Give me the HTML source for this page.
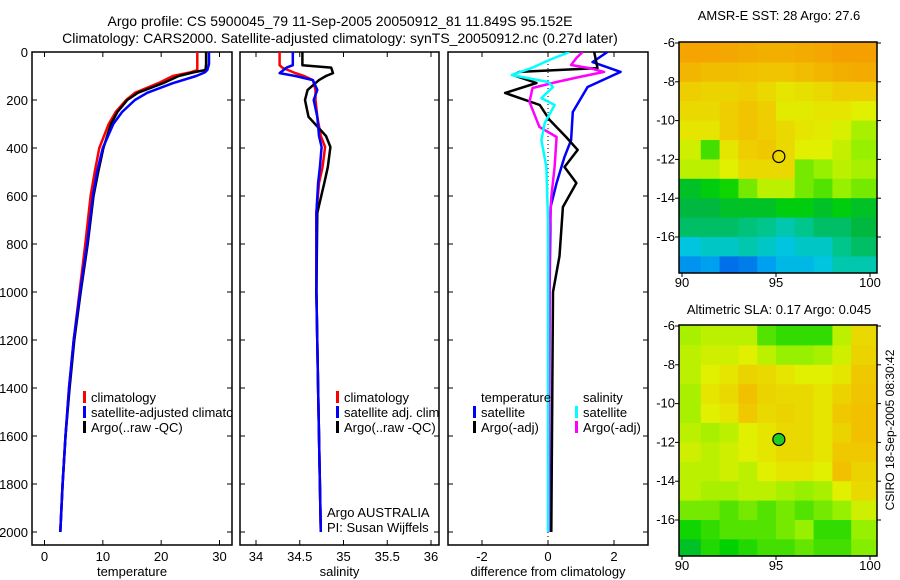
<!DOCTYPE html>
<html><head><meta charset="utf-8"><style>
html,body{margin:0;padding:0;background:#fff;}
svg{display:block;font-family:"Liberation Sans",sans-serif;}
</style></head><body>
<svg id="fig" width="900" height="580" viewBox="0 0 900 580" xmlns="http://www.w3.org/2000/svg">
<text x="340" y="26" font-size="14" text-anchor="middle">Argo profile: CS 5900045_79 11-Sep-2005 20050912_81 11.849S 95.152E</text>
<text x="340" y="43" font-size="14" text-anchor="middle">Climatology: CARS2000. Satellite-adjusted climatology: synTS_20050912.nc (0.27d later)</text>
<text x="779" y="20" font-size="13" text-anchor="middle">AMSR-E SST: 28 Argo: 27.6</text>
<text x="779" y="314" font-size="13" text-anchor="middle">Altimetric SLA: 0.17 Argo: 0.045</text>
<text transform="translate(894,430) rotate(-90)" font-size="12" text-anchor="middle">CSIRO 18-Sep-2005 08:30:42</text>
</svg>
<script>
// ---------- data ----------
const depthTicks = [0,200,400,600,800,1000,1200,1400,1600,1800,2000];
const tempTicks = [0,10,20,30];
const salTicks = [34,34.5,35,35.5,36];
const salTickLabels = ["34","34.5","35","35.5","36"];
const diffTicks = [-2,0,2];

const tempDepth = [0,50,75,85,100,130,170,200,250,300,400,500,600,800,1000,1200,1400,1600,1800,2000];
const tempClim  = [26.2,26.2,26.2,25,22,19.5,15.5,14,12.2,11,9.4,8.6,7.9,7,6,5,4.2,3.6,3.1,2.7];
const tempSat   = [28.2,28.2,27.9,27.5,26,22,17.6,15.5,13.3,11.8,10,9,8.3,7.3,6.1,5,4.2,3.6,3.1,2.7];
const tempArgo  = [27.7,27.7,27.6,25.5,23,20.3,16,14.2,12.5,11.4,10.1,9.2,8.4,7.4,6.2,5.1,4.3,3.6,3.1,2.7];

const salDepth = [0,55,65,88,100,117,158,200,270,350,396,480,546,670,1000,1400,2000];
const salClim  = [34.27,34.27,34.3,34.45,34.55,34.65,34.68,34.68,34.7,34.74,34.79,34.76,34.72,34.69,34.69,34.71,34.74];
const salSat   = [34.42,34.42,34.35,34.27,34.45,34.65,34.7,34.66,34.7,34.72,34.75,34.73,34.71,34.69,34.69,34.71,34.74];
const salArgo  = [34.53,34.53,34.86,34.88,34.8,34.72,34.59,34.56,34.6,34.8,34.85,34.82,34.78,34.7,34.69,34.71,34.74];

const dTempSatDepth = [0,42,83,146,250,367,437,546,646,1000,2000];
const dTempSat      = [1.8,1.35,2.2,1.2,0.75,0.7,0.5,0.26,0.08,0.05,0.03];
const dTempArgoDepth = [0,67,83,96,129,171,221,283,354,408,479,546,646,850,1000,2000];
const dTempArgo      = [1.4,1.5,-0.86,-1.07,-0.35,-1.3,-0.25,0.05,0.55,0.9,0.5,0.86,0.45,0.35,0.15,0.1];
const dSalSatDepth = [0,33,67,96,108,125,146,192,221,296,367,479,700,2000];
const dSalSat      = [0.65,0.05,-0.5,-1.1,-0.65,0,0.15,-0.2,0.2,-0.1,-0.2,-0.05,0,0];
const dSalArgoDepth = [0,25,54,67,83,104,125,150,208,312,354,479,604,750,2000];
const dSalArgo      = [1.05,0.86,0.7,1.25,1.7,0.95,0.26,-0.47,-0.56,-0.26,0.26,0.2,0.1,0.05,0.02];

const lonTicks = [90,95,100];
const latTicks = [-6,-8,-10,-12,-14,-16];
const latTickLabels = ["-6","-8","-10","-12","-14","-16"];
const gridLon = [90,91,92,93,94,95,96,97,98,99];
const gridLat = [-6,-7,-8,-9,-10,-11,-12,-13,-14,-15,-16,-17];
const sstGrid = [
[0.85,0.85,0.84,0.83,0.82,0.82,0.83,0.84,0.86,0.87],
[0.80,0.78,0.78,0.77,0.76,0.76,0.78,0.80,0.82,0.83],
[0.74,0.73,0.73,0.74,0.72,0.70,0.71,0.72,0.74,0.74],
[0.72,0.72,0.74,0.76,0.74,0.69,0.69,0.70,0.70,0.68],
[0.70,0.70,0.74,0.76,0.74,0.72,0.70,0.69,0.67,0.62],
[0.66,0.55,0.70,0.74,0.75,0.72,0.68,0.68,0.65,0.60],
[0.64,0.64,0.68,0.72,0.72,0.72,0.58,0.60,0.64,0.62],
[0.48,0.50,0.52,0.58,0.64,0.64,0.58,0.56,0.60,0.58],
[0.46,0.46,0.48,0.48,0.48,0.50,0.50,0.48,0.50,0.48],
[0.44,0.44,0.44,0.43,0.42,0.40,0.42,0.44,0.44,0.46],
[0.36,0.38,0.38,0.40,0.38,0.36,0.38,0.38,0.42,0.44],
[0.28,0.30,0.22,0.24,0.30,0.34,0.34,0.36,0.40,0.40]];
const slaGrid = [
[0.62,0.64,0.64,0.64,0.56,0.54,0.54,0.54,0.64,0.72],
[0.64,0.66,0.66,0.68,0.64,0.60,0.60,0.62,0.66,0.73],
[0.64,0.68,0.70,0.73,0.72,0.70,0.68,0.68,0.70,0.75],
[0.62,0.70,0.72,0.77,0.73,0.72,0.72,0.70,0.73,0.76],
[0.62,0.68,0.70,0.75,0.72,0.73,0.72,0.70,0.75,0.77],
[0.64,0.62,0.64,0.68,0.70,0.72,0.72,0.70,0.73,0.77],
[0.66,0.64,0.66,0.68,0.70,0.72,0.72,0.70,0.75,0.75],
[0.64,0.64,0.66,0.64,0.68,0.70,0.70,0.68,0.77,0.73],
[0.64,0.62,0.62,0.64,0.64,0.62,0.60,0.62,0.68,0.72],
[0.58,0.58,0.56,0.58,0.56,0.58,0.56,0.58,0.60,0.66],
[0.52,0.54,0.56,0.56,0.56,0.58,0.60,0.54,0.54,0.60],
[0.48,0.53,0.51,0.53,0.55,0.55,0.57,0.55,0.55,0.59]];
const argoLon = 95.152, argoLat = -11.849;

// ---------- helpers ----------
const NS="http://www.w3.org/2000/svg";
const svg=document.getElementById('fig');
function mk(tag,attrs,parent){const e=document.createElementNS(NS,tag);for(const k in attrs)e.setAttribute(k,attrs[k]);(parent||svg).appendChild(e);return e;}
function lin(d0,d1,r0,r1){return v=>r0+(v-d0)*(r1-r0)/(d1-d0);}

const TOP=52, BOT=545;
const yDepth = lin(0,2000,52,532);

function panel(name,x0,x1,xs,ticks,labels,title,clipId){
  const g=mk('g',{});
  
  
  const cp=mk('clipPath',{id:clipId},g);
  mk('rect',{x:x0,y:TOP,width:x1-x0,height:BOT-TOP},cp);
  const box=mk('rect',{x:x0,y:TOP,width:x1-x0,height:BOT-TOP,fill:'none',stroke:'#000','stroke-width':1.5},g);
  
  
  ticks.forEach((t,i)=>{
    const x=xs(t);
    mk('line',{x1:x,x2:x,y1:BOT,y2:BOT-5,stroke:'#000'},g);
    mk('line',{x1:x,x2:x,y1:TOP,y2:TOP+5,stroke:'#000'},g);
    const tx=mk('text',{x:x,y:561,'font-size':13,'text-anchor':'middle'},g);
    tx.textContent=labels[i];
    
    
  });
  depthTicks.forEach(d=>{
    const y=yDepth(d);
    mk('line',{x1:x0,x2:x0+5,y1:y,y2:y,stroke:'#000'},g);
    mk('line',{x1:x1,x2:x1-5,y1:y,y2:y,stroke:'#000'},g);
  });
  const at=mk('text',{x:(x0+x1)/2,y:576,'font-size':13,'text-anchor':'middle'},g);
  at.textContent=title;
  
  
  return g;
}
function series(g,xs,depths,vals,color,name,clipId,w){
  const pts=depths.map((d,i)=>xs(vals[i]).toFixed(1)+','+yDepth(d).toFixed(1)).join(' ');
  const p=mk('polyline',{points:pts,fill:'none',stroke:color,'stroke-width':w||2.5,'stroke-linejoin':'round','clip-path':'url(#'+clipId+')'},g);
  
  
}
function legend(g,x,y,color,label,clipId){
  if(color){
    const m=mk('rect',{x:x-8,y:y-11,width:3,height:12,fill:color},g);
    
    
  }
  const t=mk('text',{x:x,y:y,'font-size':13,'clip-path':'url(#'+clipId+')'},g);
  t.textContent=label;
  
  
}

// depth labels
depthTicks.forEach(d=>{
  const t=mk('text',{x:28,y:yDepth(d)+5,'font-size':13,'text-anchor':'end'});
  t.textContent=String(d);
  
  
});

// panel 1 temperature
const xT=lin(0,30,44.5,219.5);
const g1=panel('temperature-panel',32,232,xT,tempTicks,tempTicks.map(String),'temperature','c1');
series(g1,xT,tempDepth,tempClim,'#ff0000','temp-climatology-line','c1');
series(g1,xT,tempDepth,tempArgo,'#000000','temp-argo-line','c1');
series(g1,xT,tempDepth,tempSat,'#0000ff','temp-satellite-line','c1');
legend(g1,91,402,'#ff0000','climatology','c1');
legend(g1,91,417,'#0000ff','satellite-adjusted climatology','c1');
legend(g1,91,432,'#000000','Argo(..raw -QC)','c1');

// panel 2 salinity
const xS=lin(34,36,256,431);
const g2=panel('salinity-panel',240,439,xS,salTicks,salTickLabels,'salinity','c2');
series(g2,xS,salDepth,salClim,'#ff0000','sal-climatology-line','c2');
series(g2,xS,salDepth,salArgo,'#000000','sal-argo-line','c2');
series(g2,xS,salDepth,salSat,'#0000ff','sal-satellite-line','c2');
legend(g2,344,402,'#ff0000','climatology','c2');
legend(g2,344,417,'#0000ff','satellite adj. clim.','c2');
legend(g2,344,432,'#000000','Argo(..raw -QC)','c2');
legend(g2,327,517,null,'Argo AUSTRALIA','c2');
legend(g2,327,532,null,'PI: Susan Wijffels','c2');

// panel 3 difference
const xD=lin(-2,2,482,614);
const g3=panel('difference-panel',448,648,xD,diffTicks,diffTicks.map(String),'difference from climatology','c3');
const zl=mk('line',{x1:xD(0),x2:xD(0),y1:TOP,y2:BOT,stroke:'#000','stroke-dasharray':'1,3'},g3);


series(g3,xD,dTempSatDepth,dTempSat,'#0000ff','diff-temp-satellite-line','c3');
series(g3,xD,dTempArgoDepth,dTempArgo,'#000000','diff-temp-argo-line','c3');
series(g3,xD,dSalArgoDepth,dSalArgo,'#ff00ff','diff-sal-argo-line','c3');
series(g3,xD,dSalSatDepth,dSalSat,'#00ffff','diff-sal-satellite-line','c3');
legend(g3,481,402,null,'temperature','c3');
legend(g3,481,417,'#0000ff','satellite','c3');
legend(g3,481,432,'#000000','Argo(-adj)','c3');
legend(g3,583,402,null,'salinity','c3');
legend(g3,583,417,'#00ffff','satellite','c3');
legend(g3,583,432,'#ff00ff','Argo(-adj)','c3');

// ---------- maps ----------
const cmapStops=[[0.20,[0,100,232]],[0.30,[0,160,240]],[0.36,[0,196,224]],[0.41,[0,200,160]],[0.46,[0,184,64]],[0.51,[0,210,0]],[0.60,[150,240,0]],[0.68,[224,240,0]],[0.75,[240,200,0]],[0.86,[245,160,0]]];
function cmap(v){
  if(v<=cmapStops[0][0])return 'rgb('+cmapStops[0][1]+')';
  for(let i=1;i<cmapStops.length;i++){
    if(v<=cmapStops[i][0]){const a=cmapStops[i-1],b=cmapStops[i];const f=(v-a[0])/(b[0]-a[0]);
      return 'rgb('+a[1].map((c,k)=>Math.round(c+(b[1][k]-c)*f)).join(',')+')';}
  }
  return 'rgb('+cmapStops[cmapStops.length-1][1]+')';
}
function map(name,top,grid,filled){
  const x0=679,x1=877,bot=top+231;
  const xs=lin(90,100,682,870);
  const ys=lin(-6,-16,top+1,top+195);
  const g=mk('g',{});
  
  
  const cid='m'+top;
  const cp=mk('clipPath',{id:cid},g);
  mk('rect',{x:x0,y:top,width:x1-x0,height:bot-top},cp);
  const cells=mk('g',{'clip-path':'url(#'+cid+')'},g);
  grid.forEach((row,r)=>row.forEach((v,c)=>{
    const lo=gridLon[c], la=gridLat[r];
    const xa=c===0?x0:xs(lo), xb=c===row.length-1?x1:xs(lo+1);
    const ya=r===0?top:ys(la), yb=r===grid.length-1?bot:ys(la-1);
    const rc=mk('rect',{x:xa,y:ya,width:xb-xa+0.5,height:yb-ya+0.5,fill:cmap(v)},cells);
    
    
  }));
  mk('rect',{x:x0,y:top,width:x1-x0,height:bot-top,fill:'none',stroke:'#000','stroke-width':1.5},g);
  lonTicks.forEach(l=>{
    const x=xs(l);
    mk('line',{x1:x,x2:x,y1:bot,y2:bot+4,stroke:'#000'},g);
    const t=mk('text',{x:x,y:bot+14,'font-size':13,'text-anchor':'middle'},g);
    t.textContent=String(l);
    
    
  });
  latTicks.forEach((l,i)=>{
    const y=ys(l);
    mk('line',{x1:x0-4,x2:x0,y1:y,y2:y,stroke:'#000'},g);
    mk('line',{x1:x1,x2:x1+4,y1:y,y2:y,stroke:'#000'},g);
    const t=mk('text',{x:x0-4,y:y+4,'font-size':13,'text-anchor':'end'},g);
    t.textContent=latTickLabels[i];
    
    
  });
  const c=mk('circle',{cx:xs(argoLon),cy:ys(argoLat),r:6,fill:filled?'#22cc22':'none',stroke:'#000','stroke-width':1.2},g);
  
  
}
map('sst-map',42,sstGrid,false);
map('sla-map',325,slaGrid,true);
</script>
</body></html>
